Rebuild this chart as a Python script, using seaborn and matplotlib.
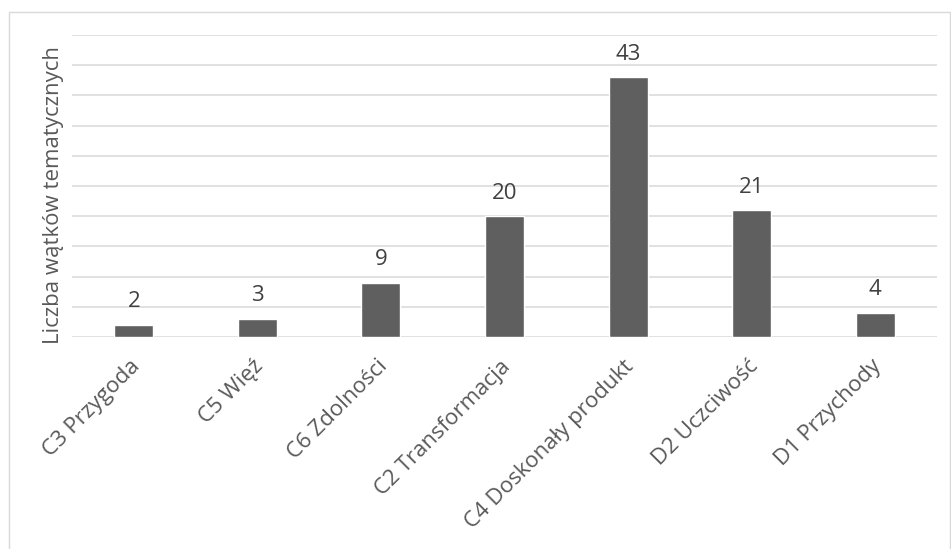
import matplotlib
matplotlib.use("Agg")
import matplotlib.pyplot as plt
import matplotlib.transforms as mtransforms
import seaborn as sns
import pandas as pd
from matplotlib.patches import Rectangle

categories = ["C3 Przygoda", "C5 Więź", "C6 Zdolności", "C2 Transformacja",
              "C4 Doskonały produkt", "D2 Uczciwość", "D1 Przychody"]
values = [2, 3, 9, 20, 43, 21, 4]
y_label = "Liczba wątków tematycznych"

sns.set_theme(style="white")
plt.rcParams['font.family'] = ['Open Sans', 'DejaVu Sans']

df = pd.DataFrame({"cat": categories, "val": values})

fig = plt.figure(figsize=(9.51, 5.49), dpi=100)
ax = fig.add_axes([0.0757, 0.3862, 0.9096, 0.5500])

sns.barplot(data=df, x="cat", y="val", color="#5f5f5f", width=0.315,
            saturation=1, ax=ax, zorder=3)

ax.set_ylim(0, 50)
ax.set_yticks(range(0, 51, 5))
ax.set_yticklabels([])
ax.tick_params(axis='y', length=0)
ax.tick_params(axis='x', length=0, pad=19)
ax.yaxis.grid(True, color="#d9d9d9", linewidth=1.1, zorder=0)
ax.xaxis.grid(False)
for s in ax.spines.values():
    s.set_visible(False)
ax.set_xlim(-0.5, len(categories) - 0.5)

ax.set_xlabel("")
ax.set_ylabel(y_label, fontsize=16, color="#595959")
ax.yaxis.set_label_coords(-0.009, 0.47)

ax.set_xticks(range(len(categories)))
ax.set_xticklabels(categories, rotation=45, ha="right", va="center",
                   rotation_mode="anchor", fontsize=16, color="#595959")

for c in ax.containers:
    ax.bar_label(c, labels=[str(v) for v in values], padding=9,
                 fontsize=16, color="#404040")

shift = mtransforms.ScaledTranslation(3 / 100, 0, fig.dpi_scale_trans)
for lbl in ax.get_xticklabels():
    lbl.set_transform(lbl.get_transform() + shift)

fig.patches.append(Rectangle((9 / 951, -0.01), (950 - 9) / 951, 1 - 12 / 549 + 0.01,
                             transform=fig.transFigure, fill=False,
                             edgecolor="#d9d9d9", linewidth=1.0))

fig.savefig("out.png", dpi=100)
